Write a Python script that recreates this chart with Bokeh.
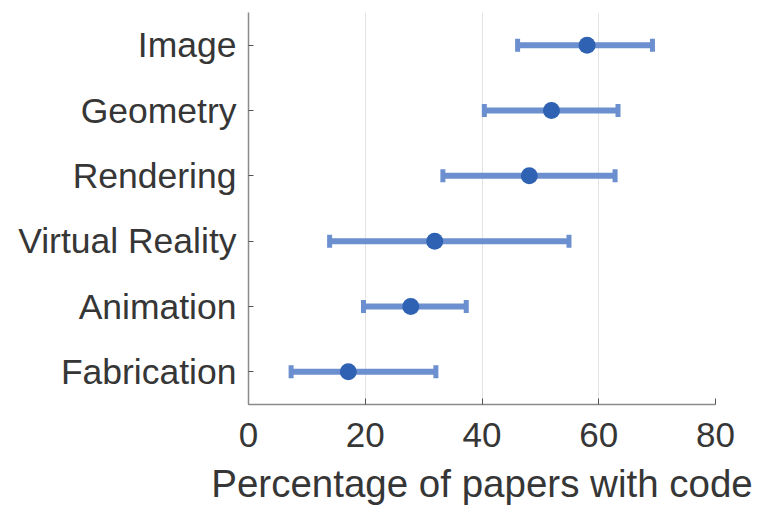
from bokeh.plotting import figure
from bokeh.models import ColumnDataSource, FixedTicker
from bokeh.embed import file_html
from bokeh.resources import INLINE

categories = ["Fabrication", "Animation", "Virtual Reality", "Rendering", "Geometry", "Image"]
means = [17.1, 27.8, 31.9, 48.1, 51.9, 58.0]
lows = [7.3, 19.7, 13.9, 33.3, 40.4, 46.1]
highs = [32.1, 37.3, 54.9, 62.8, 63.3, 69.2]
x_ticks = [0, 20, 40, 60, 80]

src = ColumnDataSource(dict(cat=categories, mean=means, lo=lows, hi=highs))

FONT = "Liberation Sans"
p = figure(width=758, height=509, y_range=categories, x_range=(0, 80),
           output_backend="svg", toolbar_location=None,
           min_border_left=248, min_border_right=43, min_border_top=12, min_border_bottom=105)
p.y_range.range_padding = 0
p.outline_line_color = None
p.background_fill_color = "white"
p.border_fill_color = "white"

bar_color = "#6b8fcf"
pt_color = "#2f62b2"
p.segment(x0="lo", x1="hi", y0="cat", y1="cat", source=src,
          line_color=bar_color, line_width=6)
p.rect(x="lo", y="cat", width=5, height=13, width_units="screen", height_units="screen",
       source=src, fill_color=bar_color, line_color=None)
p.rect(x="hi", y="cat", width=5, height=13, width_units="screen", height_units="screen",
       source=src, fill_color=bar_color, line_color=None)
p.scatter(x="mean", y="cat", source=src, size=17, fill_color=pt_color, line_color=None)

TXT = "#363636"
p.xaxis.ticker = FixedTicker(ticks=x_ticks)
p.xaxis.axis_label = "Percentage of papers with code"
p.xaxis.axis_label_text_font = FONT
p.xaxis.axis_label_text_font_size = "38.5px"
p.xaxis.axis_label_text_font_style = "normal"
p.xaxis.axis_label_text_color = TXT
p.xaxis.axis_label_standoff = 12
p.xaxis.major_label_text_font = FONT
p.xaxis.major_label_text_font_size = "35px"
p.xaxis.major_label_text_color = TXT
p.xaxis.major_label_standoff = 18
p.xaxis.major_tick_in = 6
p.xaxis.major_tick_out = 0
p.xaxis.minor_tick_line_color = None

p.yaxis.major_label_text_font = FONT
p.yaxis.major_label_text_font_size = "35.5px"
p.yaxis.major_label_text_color = TXT
p.yaxis.major_label_standoff = 12
p.yaxis.major_tick_in = 5
p.yaxis.major_tick_out = 0

for ax in (p.xaxis, p.yaxis):
    ax.axis_line_color = "#8a8a8a"
    ax.axis_line_width = 1.5
    ax.major_tick_line_color = "#555555"

p.ygrid.grid_line_color = None
p.xgrid.grid_line_color = "#e3e3e3"
p.xgrid.grid_line_width = 1

open("out.html", "w").write(file_html(p, INLINE))
